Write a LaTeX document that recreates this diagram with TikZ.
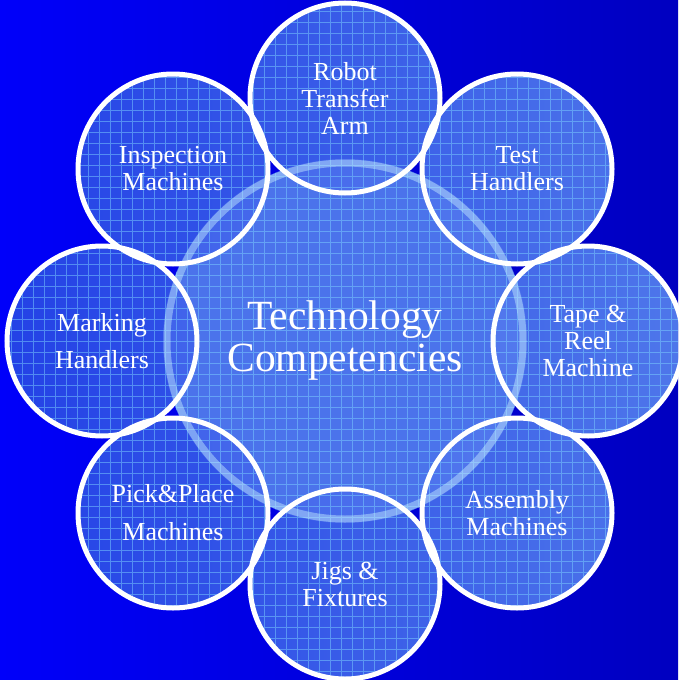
\documentclass[tikz,border=0pt]{standalone}
\usepackage{fontspec}
\setmainfont{Liberation Serif}
\begin{document}
\begin{tikzpicture}[x=1pt,y=-1pt,
  outer/.style={circle,draw=white,line width=5pt,minimum size=190pt,inner sep=0pt,
    text=white,align=center,font=\fontsize{26}{27}\selectfont},
  central/.style={text=white,align=center,font=\fontsize{41.5}{42}\selectfont}]
\definecolor{bgL}{RGB}{0,0,250}
\definecolor{bgR}{RGB}{0,0,192}
\definecolor{oL}{RGB}{35,65,230}
\definecolor{oR}{RGB}{78,118,234}
\definecolor{cbase}{RGB}{59,99,230}
\definecolor{cover}{RGB}{140,180,255}
\definecolor{gridc}{RGB}{125,210,255}
\definecolor{ringc}{RGB}{200,240,255}
\useasboundingbox (0,0) rectangle (678,680);
\shade[left color=bgL,right color=bgR] (0,0) rectangle (678,680);
\coordinate (c) at (345,341);
\coordinate (o1) at (345,98);
\coordinate (o2) at (517,169);
\coordinate (o3) at (588,341);
\coordinate (o4) at (517,513);
\coordinate (o5) at (345,584);
\coordinate (o6) at (173,513);
\coordinate (o7) at (102,341);
\coordinate (o8) at (173,169);
% central base
\fill[cbase] (c) circle[radius=182pt];
% outer fills
\begin{scope}
  \clip (o1) circle[radius=95pt] (o2) circle[radius=95pt] (o3) circle[radius=95pt]
        (o4) circle[radius=95pt] (o5) circle[radius=95pt] (o6) circle[radius=95pt]
        (o7) circle[radius=95pt] (o8) circle[radius=95pt];
  \shade[left color=oL,right color=oR] (0,0) rectangle (678,680);
\end{scope}
% central overlay
\fill[cover,fill opacity=0.2] (c) circle[radius=182pt];
% grid
\begin{scope}
  \clip (c) circle[radius=182pt]
        (o1) circle[radius=95pt] (o2) circle[radius=95pt] (o3) circle[radius=95pt]
        (o4) circle[radius=95pt] (o5) circle[radius=95pt] (o6) circle[radius=95pt]
        (o7) circle[radius=95pt] (o8) circle[radius=95pt];
  \draw[gridc,draw opacity=0.5,line width=1pt,step=11pt] (0,0) grid (678,680);
\end{scope}
% central ring
\draw[ringc,draw opacity=0.45,line width=7pt] (c) circle[radius=178pt];
% nodes
\node[central] (tc) at (c) {Technology\\Competencies};
\node[outer] (robot) at (o1) {Robot\\Transfer\\Arm};
\node[outer] (test) at (o2) {Test\\Handlers};
\node[outer] (tape) at (o3) {Tape \&\\Reel\\Machine};
\node[outer] (assembly) at (o4) {Assembly\\Machines};
\node[outer] (jigs) at (o5) {\raisebox{-3pt}{\parbox{120pt}{\centering Jigs \&\\Fixtures}}};
\node[outer] (pick) at (o6) {Pick\&Place\\[11pt]Machines};
\node[outer] (marking) at (o7) {Marking\\[10pt]Handlers};
\node[outer] (inspection) at (o8) {Inspection\\Machines};
\end{tikzpicture}
\end{document}
